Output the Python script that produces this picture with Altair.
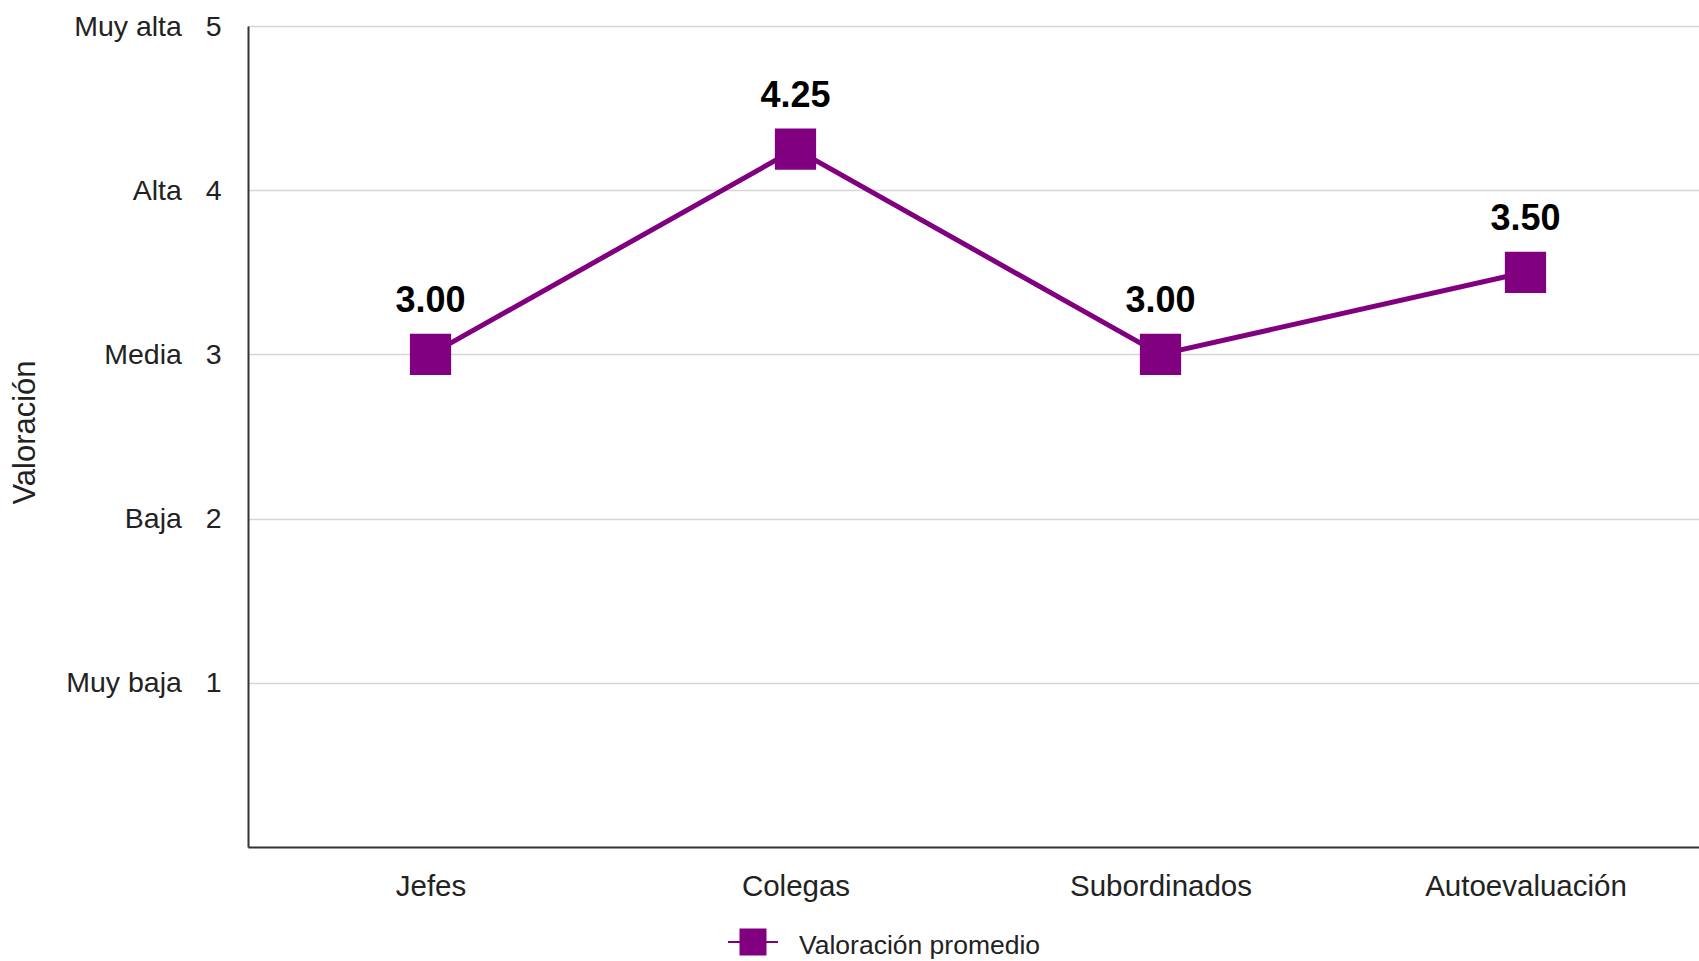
import altair as alt
import pandas as pd

categorias = ["Jefes", "Colegas", "Subordinados", "Autoevaluación"]
valores = [3.00, 4.25, 3.00, 3.50]
serie = "Valoración promedio"
ticks_y = [1, 2, 3, 4, 5]
etiquetas_y = ["Muy baja", "Baja", "Media", "Alta", "Muy alta"]

df = pd.DataFrame({"grupo": categorias, "valor": valores, "serie": [serie] * len(categorias)})

PURPLE = "#800080"
FONT = "Liberation Sans"

label_expr = " : ".join(
    f"datum.value == {v} ? '{lab}\u00a0\u00a0\u00a0{v}'" for v, lab in zip(ticks_y, etiquetas_y)
) + " : ''"

x_enc = alt.X(
    "grupo:N",
    sort=categorias,
    scale=alt.Scale(type="point", padding=0.5),
    axis=alt.Axis(
        title=None, labelAngle=0, ticks=False, grid=False, labelPadding=25,
        labelFontSize=29.5, labelFont=FONT, labelColor="#222222", labelLimit=0,
        domainColor="#333333", domainWidth=2,
    ),
)
y_enc = alt.Y(
    "valor:Q",
    scale=alt.Scale(domain=[0, 5], nice=False, zero=True),
    axis=alt.Axis(
        values=ticks_y, labelExpr=label_expr, title="Valoración",
        ticks=False, labelPadding=27, labelFontSize=28.5, labelFont=FONT, labelColor="#222222",
        labelLimit=0,
        grid=True, gridColor="#d6d6d6", gridWidth=1.5,
        domainColor="#333333", domainWidth=2,
        titleFont=FONT, titleFontSize=31, titleFontWeight="normal", titleColor="#222222",
        titleAngle=270, titleAlign="center", titleBaseline="middle",
        titleX=-223, titleY=406,
    ),
)

base = alt.Chart(df)

line = base.mark_line(color=PURPLE, strokeWidth=5).encode(x=x_enc, y=y_enc)

points = base.mark_point(shape="square", filled=True, size=1700, opacity=1).encode(
    x=x_enc,
    y=y_enc,
    color=alt.Color(
        "serie:N",
        scale=alt.Scale(range=[PURPLE]),
        legend=alt.Legend(
            title=None, orient="none", legendX=479, legendY=894, padding=0,
            symbolType="M-1,-0.16H-0.5M0.5,-0.16H1M-0.5,-0.66H0.5V0.34H-0.5Z",
            symbolSize=2500, symbolFillColor=PURPLE, symbolStrokeColor=PURPLE,
            symbolStrokeWidth=2, labelFont=FONT, labelFontSize=26.5, labelColor="#222222",
            labelOffset=20, labelLimit=0,
        ),
    ),
)

labels = base.mark_text(
    dy=-42, baseline="alphabetic", align="center", font=FONT, fontSize=36,
    fontWeight="bold", color="#000000",
).encode(x=x_enc, y=y_enc, text=alt.Text("valor:Q", format=".2f"))

chart = (
    alt.layer(line, points, labels)
    .properties(
        width=1460, height=821,
        autosize=alt.AutoSizeParams(type="none"),
        padding={"left": 248, "top": 26, "right": -9, "bottom": 114},
    )
    .configure_view(stroke=None)
    .configure(background="white")
)

chart.save("out.html", embed_options={"renderer": "svg", "actions": False})
